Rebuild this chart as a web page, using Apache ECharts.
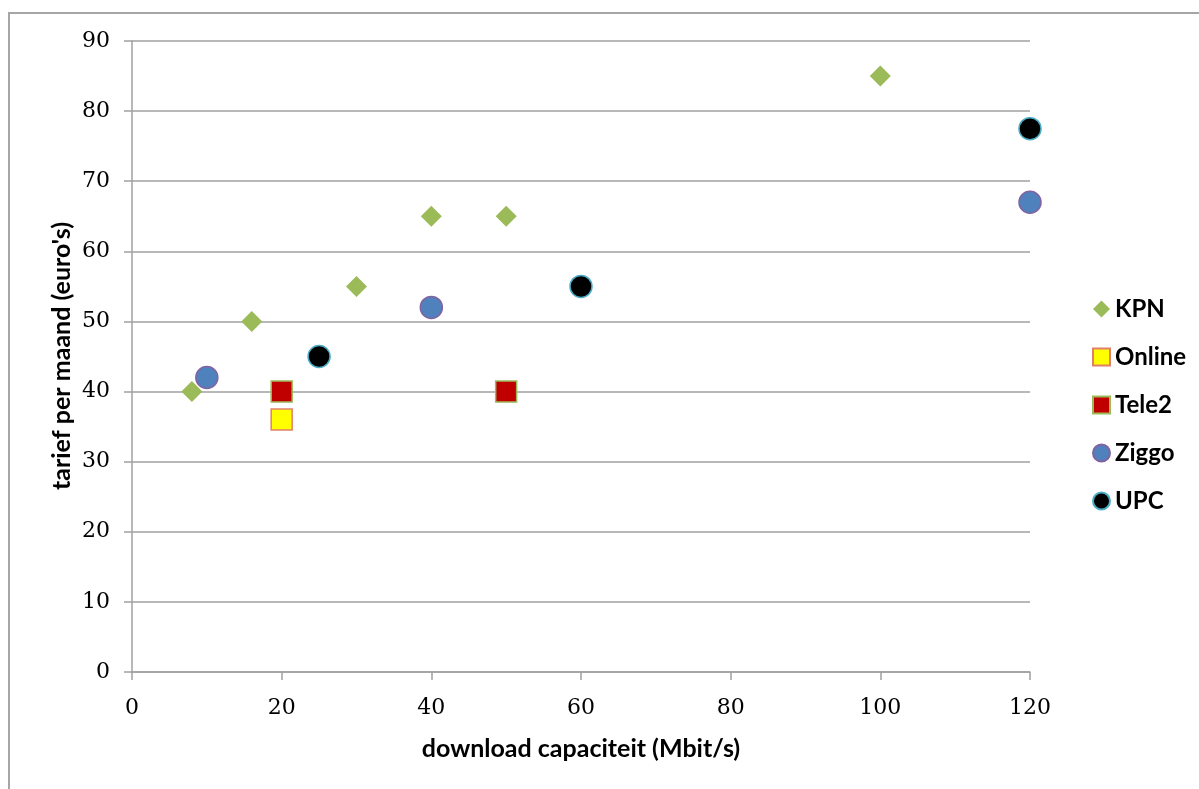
<!DOCTYPE html>
<html>
<head>
<meta charset="utf-8">
<script src="https://cdn.jsdelivr.net/npm/echarts@6/dist/echarts.min.js"></script>
<style>
html,body{margin:0;padding:0;background:#fff;}
#frame{position:absolute;left:8px;top:12px;width:1300px;height:900px;border-left:2px solid #a6a6a6;border-top:2px solid #a6a6a6;box-sizing:border-box;}
#chart{position:absolute;left:0;top:0;width:1199px;height:789px;}
</style>
</head>
<body>
<div id="frame"></div>
<div id="chart"></div>
<script>
const xTitle = 'download capaciteit (Mbit/s)';
const yTitle = "tarief per maand (euro's)";
const kpn = [[8,40],[16,50],[30,55],[40,65],[50,65],[100,85]];
const online = [[20,36]];
const tele2 = [[20,40],[50,40]];
const ziggo = [[10,42],[40,52],[120,67]];
const upc = [[25,45],[60,55],[120,77.5]];

const chart = echarts.init(document.getElementById('chart'));
const labelFont = {fontFamily:'DejaVu Serif', fontSize:22, color:'#000'};
const axisLine = {lineStyle:{color:'#a0a0a0', width:1.5}};
chart.setOption({
  animation:false,
  backgroundColor:'transparent',
  grid:{left:132, right:169, top:41, bottom:117},
  graphic:[{
    type:'text', x:62, y:356, rotation:Math.PI/2,
    style:{text:yTitle, fontFamily:'Lato', fontWeight:'bold', fontSize:25, fill:'#000',
           textAlign:'center', textVerticalAlign:'middle'}
  }],
  xAxis:{
    type:'value', min:0, max:120, interval:20,
    name:xTitle, nameLocation:'middle', nameGap:64, nameMoveOverlap:false,
    nameTextStyle:{fontFamily:'Lato', fontWeight:'bold', fontSize:25, color:'#000'},
    axisLine:{show:true, ...axisLine},
    axisTick:{show:true, length:8, lineStyle:{color:'#a0a0a0', width:1.5}},
    axisLabel:{...labelFont, margin:25},
    splitLine:{show:false}
  },
  yAxis:{
    type:'value', min:0, max:90, interval:10,
    axisLine:{show:true, ...axisLine},
    axisTick:{show:true, length:8, lineStyle:{color:'#a0a0a0', width:1.5}},
    axisLabel:{...labelFont, margin:22},
    splitLine:{show:true, lineStyle:{color:'#a0a0a0', width:1.5}}
  },
  legend:{
    orient:'vertical', left:1087, top:292, itemGap:24, itemWidth:17, itemHeight:17,
    textStyle:{fontFamily:'Lato', fontWeight:'bold', fontSize:24, color:'#000'},
    data:['KPN','Online','Tele2','Ziggo','UPC']
  },
  series:[
    {name:'KPN', type:'scatter', data:kpn, symbol:'diamond', symbolSize:21,
     itemStyle:{color:'#9bbb59', opacity:1}},
    {name:'Online', type:'scatter', data:online, symbol:'rect', symbolSize:21,
     itemStyle:{color:'#ffff00', borderColor:'#e0806a', borderWidth:1.5, opacity:1}},
    {name:'Tele2', type:'scatter', data:tele2, symbol:'rect', symbolSize:21,
     itemStyle:{color:'#c00000', borderColor:'#9bbb59', borderWidth:1.5, opacity:1}},
    {name:'Ziggo', type:'scatter', data:ziggo, symbol:'circle', symbolSize:22,
     itemStyle:{color:'#4f81bd', borderColor:'#8064a2', borderWidth:1.5, opacity:1}},
    {name:'UPC', type:'scatter', data:upc, symbol:'circle', symbolSize:22,
     itemStyle:{color:'#000000', borderColor:'#4bacc6', borderWidth:1.5, opacity:1}}
  ]
});
</script>
</body>
</html>
